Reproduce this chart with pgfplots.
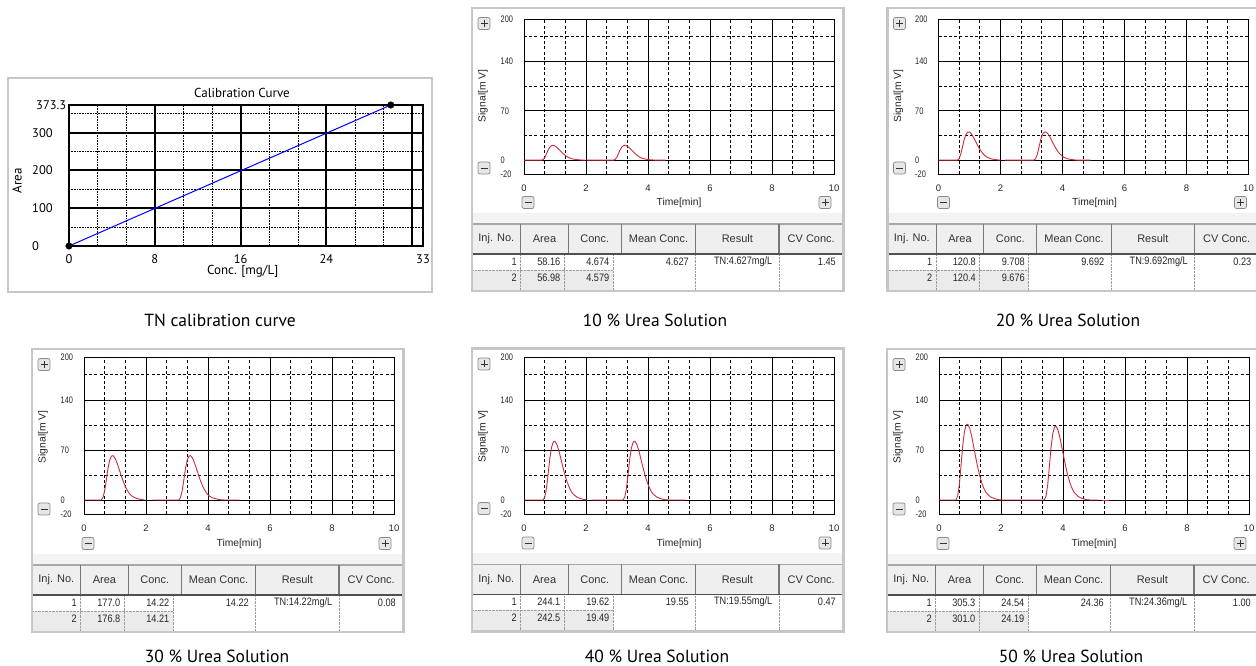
\documentclass[border=0pt]{standalone}
\usepackage{fontspec}
\setmainfont{PT Sans}
\newfontfamily\uifont{Liberation Sans}
\newfontfamily\tnumfont[FakeStretch=0.85]{Liberation Sans}
\newfontfamily\tickyfont[FakeStretch=0.78]{Liberation Sans}
\usepackage{pgfplots}
\pgfplotsset{compat=1.18}
\definecolor{framegray}{HTML}{C6C6C6}
\definecolor{bandgray}{HTML}{F3F3F3}
\definecolor{hdrfill}{HTML}{EFEFEF}
\definecolor{row2fill}{HTML}{EBEBEB}
\definecolor{hdrtop}{HTML}{A8A8A8}
\definecolor{hdrsep}{HTML}{787878}
\definecolor{hdrbot}{HTML}{505050}
\definecolor{dotgray}{HTML}{9A9A9A}
\definecolor{btnborder}{HTML}{8A8A8A}
\definecolor{btnfill}{HTML}{E6E6E6}
\definecolor{tracered}{RGB}{205,45,60}

\newcommand\capfont{\fontsize{17.5}{20}\selectfont}
\newcommand\hdrfont{\uifont\fontsize{11}{12}\selectfont}
\newcommand\numfnt{\tnumfont\fontsize{10.8}{12}\selectfont}
\newcommand\lblfont{\uifont\fontsize{10.3}{12}\selectfont}

\newcommand\btnp[2]{%
  \draw[btnborder, fill=btnfill, rounded corners=2pt, line width=0.7pt] ({#1-6},{#2-6}) rectangle ({#1+6},{#2+6});
  \draw[black!80, line width=0.9pt] ({#1-3.5},#2) -- ({#1+3.5},#2) ({#1},{#2-3.5}) -- ({#1},{#2+3.5});}
\newcommand\btnm[2]{%
  \draw[btnborder, fill=btnfill, rounded corners=2pt, line width=0.7pt] ({#1-6},{#2-6}) rectangle ({#1+6},{#2+6});
  \draw[black!80, line width=0.9pt] ({#1-3.5},#2) -- ({#1+3.5},#2);}

\newcommand\panelframe[2]{%
\begin{scope}[shift={(#1,{666-#2})}]
  \fill[white] (0,0) rectangle (371.5,-283);
  \fill[bandgray] (0,-205) rectangle (371.5,-216);
  \fill[hdrfill] (0,-216) rectangle (371.5,-246);
  \fill[row2fill] (0,-262) rectangle (141,-283);
  \draw[hdrtop, line width=1.2pt] (0,-216) -- (371.5,-216);
  \foreach \c in {48.7,96.3,149.3,223.7,307} \draw[hdrsep, line width=1.1pt] (\c,-216) -- (\c,-246);
  \foreach \c in {48.7,92,141,223.7,307} \draw[dotgray, line width=0.6pt, dash pattern=on 0.6pt off 0.8pt] (\c,-246) -- (\c,-283);
  \draw[dotgray, line width=0.6pt, dash pattern=on 0.6pt off 0.8pt] (0,-262) -- (141,-262);
  \draw[hdrbot, line width=1.3pt] (0,-246) -- (371.5,-246);
  \path[font=\hdrfont, text=black!80] (24.35,-231) node {Inj. No.} (72.5,-231) node {Area}
     (122.8,-231) node {Conc.} (186.5,-231) node {Mean Conc.} (265.35,-231) node {Result}
     (339.25,-231) node {CV Conc.};
  \draw[framegray, line width=2.6pt] (0,0) rectangle (371.5,-283);
  \btnp{12}{-15.5}
  \btnm{12}{-160}
  \btnm{56}{-194.5}
  \btnp{353}{-194.5}
  \node[rotate=90, font=\lblfont, text=black!85] at (11,-88) {Signal[m V]};
  \node[font=\lblfont, text=black!85] at (207,-195) {Time[min]};
\end{scope}}

\newcommand\panelrows[9]{%
\begin{scope}[shift={(#1,{666-#2})}, every node/.style={font=\numfnt, text=black!85, inner sep=0pt, anchor=east}]
  \node at (45,-253.5) {1};
  \node at (88.5,-253.5) {#3};
  \node at (137.5,-253.5) {#4};
  \node at (217,-253.5) {#7};
  \node at (300.5,-253.5) {#8};
  \node at (364,-253.5) {#9};
  \node at (45,-269.5) {2};
  \node at (88.5,-269.5) {#5};
  \node at (137.5,-269.5) {#6};
\end{scope}}

\pgfplotsset{
  chrom/.style={
    scale only axis, width=310pt, anchor=north west,
    xmin=0, xmax=10, ymin=-20, ymax=200,
    xtick={0,2,4,6,8,10}, xticklabels={0,2,4,6,8,10},
    ytick={-20,0,70,140,200}, yticklabels={-20,0,70,140,200},
    minor xtick={0.6667,1.3333,2.6667,3.3333,4.6667,5.3333,6.6667,7.3333,8.6667,9.3333},
    minor ytick={35,105,175},
    grid=both,
    major grid style={black, line width=0.75pt},
    minor grid style={black, line width=0.75pt, dash pattern=on 3pt off 2.2pt},
    major tick length=0pt, minor tick length=0pt,
    axis line style={black, line width=0.9pt},
    axis background/.style={fill=white},
    xticklabel style={font=\uifont\fontsize{9.5}{10}\selectfont, anchor=center, inner sep=0pt, yshift=-14pt, text=black!85},
    yticklabel style={font=\tickyfont\fontsize{9.5}{10}\selectfont, anchor=west, inner sep=0pt, xshift=-23.5pt, text=black!85},
  },
  trace/.style={tracered, line width=0.9pt, line join=round},
}

\begin{document}
\begin{tikzpicture}[x=1pt, y=1pt]
\useasboundingbox (0,0) rectangle (1256,666);
\fill[white] (0,0) rectangle (1256,666);

% ---------------- calibration panel ----------------
\draw[framegray, line width=2.6pt, fill=white] (8,{666-78}) rectangle (432,{666-292});
\node[font=\fontsize{13}{15}\selectfont] at (242,{666-92.7}) {Calibration Curve};
\node[font=\fontsize{13}{15}\selectfont] at (242.7,{666-271.7}) {Conc. [mg/L]};
\node[font=\fontsize{13}{15}\selectfont, rotate=90] at (17,{666-181}) {Area};
\begin{axis}[scale only axis, width=354pt, height=141pt, anchor=north west, at={(69pt,561pt)},
  xmin=0, xmax=33, ymin=0, ymax=373.3,
  xtick={0,8,16,24,33}, xticklabels={0,8,16,24,33},
  ytick={0,100,200,300,373.3}, yticklabels={0,100,200,300,{\hspace{4pt}373.3}},
  minor xtick={2.6667,5.3333,10.6667,13.3333,18.6667,21.3333,26.6667,29.3333},
  minor ytick={50,150,250,350},
  grid=minor,
  minor grid style={black, line width=0.6pt, dash pattern=on 0.7pt off 0.9pt},
  major tick length=0pt, minor tick length=0pt,
  axis line style={black, line width=1.1pt},
  clip=false,
  xticklabel style={font=\fontsize{12.5}{14}\selectfont, anchor=center, inner sep=0pt, yshift=-13pt},
  yticklabel style={font=\fontsize{12.5}{14}\selectfont, anchor=west, inner sep=0pt, xshift=-37pt},
]
\draw[black, line width=2pt] (axis cs:8,0) -- (axis cs:8,373.3)
  (axis cs:16,0) -- (axis cs:16,373.3) (axis cs:24,0) -- (axis cs:24,373.3)
  (axis cs:32,0) -- (axis cs:32,373.3)
  (axis cs:0,100) -- (axis cs:33,100) (axis cs:0,200) -- (axis cs:33,200)
  (axis cs:0,300) -- (axis cs:33,300);
\addplot[blue, line width=1pt] coordinates {(0,0) (30,373.3)};
\addplot[only marks, mark=*, mark size=3.3pt, black] coordinates {(0,0) (30,373.3)};
\end{axis}
\node[font=\capfont] at (220,{666-320}) {TN calibration curve};

% ---------------- 10 % ----------------
\panelframe{472}{8}
\panelrows{472}{8}{58.16}{4.674}{56.98}{4.579}{4.627}{TN:4.627mg/L}{1.45}
\begin{axis}[chrom, height=155.3pt, at={(524pt,647pt)}]
\addplot[trace] coordinates {(0,0) (0.565,0) (0.62,1.05) (0.675,4.2) (0.73,9.45) (0.785,15.12) (0.84,18.9) (0.895,20.79) (0.95,21) (1.015,19.74) (1.08,17.43) (1.145,14.49) (1.21,11.55) (1.275,8.82) (1.34,6.51) (1.405,4.62) (1.47,3.15) (1.535,2.1) (1.665,0.95) (1.795,0.42) (1.925,0.1) (1.97,0)};
\addplot[trace] coordinates {(2.03,0) (2.885,0) (2.94,1.05) (2.995,4.2) (3.05,9.45) (3.105,15.12) (3.16,18.9) (3.215,20.79) (3.27,21) (3.335,19.74) (3.40,17.43) (3.465,14.49) (3.53,11.55) (3.595,8.82) (3.66,6.51) (3.725,4.62) (3.79,3.15) (3.855,2.1) (3.985,0.95) (4.115,0.42) (4.245,0.1) (4.375,0) (4.56,0)};
\end{axis}
\node[font=\capfont] at (655,{666-320}) {10 \% Urea Solution};

% ---------------- 20 % ----------------
\panelframe{887.5}{8}
\panelrows{887.5}{8}{120.8}{9.708}{120.4}{9.676}{9.692}{TN:9.692mg/L}{0.23}
\begin{axis}[chrom, height=155.3pt, at={(938.5pt,647pt)}]
\addplot[trace] coordinates {(0,0) (0.605,0) (0.66,2) (0.715,8) (0.77,18) (0.825,28.8) (0.88,36) (0.935,39.6) (0.99,40) (1.055,37.6) (1.12,33.2) (1.185,27.6) (1.25,22) (1.315,16.8) (1.38,12.4) (1.445,8.8) (1.51,6) (1.575,4) (1.705,1.8) (1.835,0.8) (1.965,0.2) (2.0,0)};
\addplot[trace] coordinates {(2.14,0) (3.075,0) (3.13,2) (3.185,8) (3.24,18) (3.295,28.8) (3.35,36) (3.405,39.6) (3.46,40) (3.525,37.6) (3.59,33.2) (3.655,27.6) (3.72,22) (3.785,16.8) (3.85,12.4) (3.915,8.8) (3.98,6) (4.045,4) (4.175,1.8) (4.305,0.8) (4.435,0.2) (4.565,0) (4.91,0)};
\end{axis}
\node[font=\capfont] at (1068,{666-320}) {20 \% Urea Solution};

% ---------------- 30 % ----------------
\panelframe{32}{349}
\panelrows{32}{349}{177.0}{14.22}{176.8}{14.21}{14.22}{TN:14.22mg/L}{0.08}
\begin{axis}[chrom, height=157.3pt, at={(84pt,309pt)}]
\addplot[trace] coordinates {(0,0) (0.555,0) (0.61,3.1) (0.665,12.4) (0.72,27.9) (0.775,44.64) (0.83,55.8) (0.885,61.38) (0.94,62) (1.005,58.28) (1.07,51.46) (1.135,42.78) (1.20,34.1) (1.265,26.04) (1.33,19.22) (1.395,13.64) (1.46,9.3) (1.525,6.2) (1.655,2.79) (1.785,1.24) (1.915,0.31) (1.95,0)};
\addplot[trace] coordinates {(2.21,0) (3.055,0) (3.11,3.1) (3.165,12.4) (3.22,27.9) (3.275,44.64) (3.33,55.8) (3.385,61.38) (3.44,62) (3.505,58.28) (3.57,51.46) (3.635,42.78) (3.70,34.1) (3.765,26.04) (3.83,19.22) (3.895,13.64) (3.96,9.3) (4.025,6.2) (4.155,2.79) (4.285,1.24) (4.415,0.31) (4.545,0) (5.0,0)};
\end{axis}
\node[font=\capfont] at (217,{666-656.7}) {30 \% Urea Solution};

% ---------------- 40 % ----------------
\panelframe{472}{348.5}
\panelrows{472}{348.5}{244.1}{19.62}{242.5}{19.49}{19.55}{TN:19.55mg/L}{0.47}
\begin{axis}[chrom, height=157.3pt, at={(524pt,309pt)}]
\addplot[trace] coordinates {(0,0) (0.615,0) (0.67,4.1) (0.725,16.4) (0.78,36.9) (0.835,59.04) (0.89,73.8) (0.945,81.18) (1.00,82) (1.065,77.08) (1.13,68.06) (1.195,56.58) (1.26,45.1) (1.325,34.44) (1.39,25.42) (1.455,18.04) (1.52,12.3) (1.585,8.2) (1.715,3.69) (1.845,1.64) (1.975,0.41) (2.0,0)};
\addplot[trace] coordinates {(2.18,0) (3.195,0) (3.25,4.1) (3.305,16.4) (3.36,36.9) (3.415,59.04) (3.47,73.8) (3.525,81.18) (3.58,82) (3.645,77.08) (3.71,68.06) (3.775,56.58) (3.84,45.1) (3.905,34.44) (3.97,25.42) (4.035,18.04) (4.10,12.3) (4.165,8.2) (4.295,3.69) (4.425,1.64) (4.555,0.41) (4.685,0) (5.21,0)};
\end{axis}
\node[font=\capfont] at (657,{666-656.7}) {40 \% Urea Solution};

% ---------------- 50 % ----------------
\panelframe{887}{349}
\panelrows{887}{349}{305.3}{24.54}{301.0}{24.19}{24.36}{TN:24.36mg/L}{1.00}
\begin{axis}[chrom, height=157.3pt, at={(939pt,309pt)}]
\addplot[trace] coordinates {(0,0) (0.545,0) (0.60,5.3) (0.655,21.2) (0.71,47.7) (0.765,76.32) (0.82,95.4) (0.875,104.94) (0.93,106) (0.995,99.64) (1.06,87.98) (1.125,73.14) (1.19,58.3) (1.255,44.52) (1.32,32.86) (1.385,23.32) (1.45,15.9) (1.515,10.6) (1.645,4.77) (1.775,2.12) (1.905,0.53) (2.0,0)};
\addplot[trace] coordinates {(2.02,0) (3.395,0) (3.45,5.15) (3.505,20.6) (3.56,46.35) (3.615,74.16) (3.67,92.7) (3.725,101.97) (3.78,103) (3.845,96.82) (3.91,85.49) (3.975,71.07) (4.04,56.65) (4.105,43.26) (4.17,31.93) (4.235,22.66) (4.30,15.45) (4.365,10.3) (4.495,4.635) (4.625,2.06) (4.755,0.515) (4.885,0) (5.15,0)};
\addplot[trace] coordinates {(5.25,0) (5.49,0)};
\end{axis}
\node[font=\capfont] at (1071,{666-656.7}) {50 \% Urea Solution};

\end{tikzpicture}
\end{document}
